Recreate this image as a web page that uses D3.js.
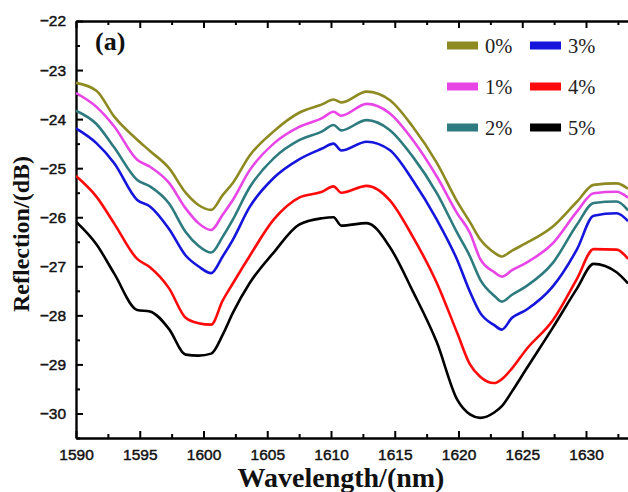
<!DOCTYPE html>
<html>
<head>
<meta charset="utf-8">
<script src="https://cdn.jsdelivr.net/npm/d3@7"></script>
<style>
body { margin: 0; background: #fff; }
svg { display: block; }
.tick text { font-family: "Liberation Sans", Arial, sans-serif; font-size: 15.5px; fill: #111; stroke: #111; stroke-width: 0.45px; }
.domain { stroke: #000; stroke-width: 2.4px; }
.tick line { stroke: #000; stroke-width: 2px; }
.curve { fill: none; stroke-width: 2.6px; stroke-linejoin: round; }
</style>
</head>
<body>
<div id="chart"></div>
<script>
var wavelength = [1590, 1591.6, 1593.0, 1594.8, 1595.8, 1597.3, 1598.6, 1599.6, 1600.6, 1601.5,
  1602.3, 1603.6, 1605.5, 1607.5, 1609.3, 1610.2, 1610.8, 1612.8, 1614.6, 1616.4,
  1618.3, 1619.9, 1620.9, 1621.7, 1622.8, 1623.4, 1624.2, 1625.3, 1627.4, 1629.3,
  1630.6, 1632.4, 1633.3];

var r0 = [-23.26, -23.42, -23.95, -24.42, -24.65, -25.0, -25.5, -25.75, -25.85, -25.55,
  -25.3, -24.75, -24.25, -23.87, -23.7, -23.6, -23.66, -23.44, -23.61, -24.15,
  -24.89, -25.68, -26.1, -26.45, -26.72, -26.8, -26.68, -26.53, -26.19, -25.68,
  -25.34, -25.31, -25.42];
var r1 = [-23.47, -23.75, -24.15, -24.83, -24.97, -25.3, -25.82, -26.12, -26.26, -25.95,
  -25.65, -25.05, -24.5, -24.16, -23.98, -23.85, -23.93, -23.69, -23.88, -24.42,
  -25.17, -25.92, -26.32, -26.85, -27.12, -27.21, -27.08, -26.93, -26.53, -25.88,
  -25.51, -25.48, -25.6];
var r2 = [-23.83, -24.1, -24.58, -25.24, -25.37, -25.72, -26.3, -26.58, -26.72, -26.4,
  -26.05, -25.4, -24.8, -24.43, -24.25, -24.12, -24.23, -24.02, -24.22, -24.76,
  -25.51, -26.32, -26.8, -27.27, -27.6, -27.72, -27.58, -27.41, -26.93, -26.15,
  -25.71, -25.68, -25.86];
var r3 = [-24.19, -24.49, -24.9, -25.65, -25.78, -26.24, -26.78, -27.0, -27.14, -26.8,
  -26.46, -25.8, -25.2, -24.82, -24.6, -24.5, -24.64, -24.46, -24.63, -25.24,
  -26.05, -26.87, -27.52, -27.95, -28.2, -28.29, -28.05, -27.89, -27.41, -26.65,
  -25.97, -25.92, -26.08];
var r4 = [-25.16, -25.58, -26.13, -26.85, -27.02, -27.45, -28.05, -28.16, -28.19, -27.7,
  -27.35, -26.8, -26.05, -25.6, -25.48, -25.37, -25.5, -25.36, -25.65, -26.39,
  -27.34, -28.36, -29.0, -29.25, -29.38, -29.3, -29.08, -28.7, -28.1, -27.25,
  -26.65, -26.66, -26.85];
var r5 = [-26.09, -26.55, -27.15, -27.89, -27.92, -28.28, -28.8, -28.82, -28.78, -28.4,
  -27.95, -27.35, -26.72, -26.15, -26.02, -26.0, -26.17, -26.12, -26.6, -27.5,
  -28.55, -29.72, -30.02, -30.09, -29.98, -29.85, -29.55, -29.1, -28.25, -27.45,
  -26.95, -27.12, -27.35];

var series_names = ["0%", "1%", "2%", "3%", "4%", "5%"];
var series_values = [r0, r1, r2, r3, r4, r5];
var series_colors = ["#8e8a22", "#e845e6", "#2d7b7e", "#1515dc", "#ff0a0a", "#000000"];

var x_ticks = [1590, 1595, 1600, 1605, 1610, 1615, 1620, 1625, 1630];
var y_ticks = [-30, -29, -28, -27, -26, -25, -24, -23, -22];

var width = 628,
height = 492;
var plot_left = 76, plot_top = 21, plot_bottom = 438;

var svg = d3.select("#chart").append("svg")
  .attr("width", width)
  .attr("height", height);

var x = d3.scaleLinear().domain([1590, 1634]).range([plot_left, plot_left + 44 * 12.75]);
var y = d3.scaleLinear().domain([-30.5, -22]).range([plot_bottom, plot_top]);

svg.append("clipPath").attr("id", "clip")
  .append("rect")
  .attr("x", plot_left).attr("y", plot_top)
  .attr("width", x(1634) - plot_left).attr("height", plot_bottom - plot_top);

// minor ticks first, then the major axes on top
var x_minor = d3.range(1592.5, 1634, 5);
var y_minor = d3.range(-30.5, -22, 1);

svg.append("g")
  .attr("transform", "translate(0," + plot_bottom + ")")
  .call(d3.axisBottom(x).tickValues(x_minor).tickSizeInner(-4).tickSizeOuter(0).tickFormat(""))
  .select(".domain").remove();
svg.append("g")
  .attr("transform", "translate(0," + plot_top + ")")
  .call(d3.axisTop(x).tickValues(x_minor).tickSizeInner(-4).tickSizeOuter(0).tickFormat(""))
  .select(".domain").remove();
svg.append("g")
  .attr("transform", "translate(" + plot_left + ",0)")
  .call(d3.axisLeft(y).tickValues(y_minor).tickSizeInner(-4).tickSizeOuter(0).tickFormat(""))
  .select(".domain").remove();

svg.append("g")
  .attr("transform", "translate(0," + plot_bottom + ")")
  .call(d3.axisBottom(x).tickValues(x_ticks).tickSizeInner(-7).tickSizeOuter(0).tickPadding(11).tickFormat(d3.format("d")));
svg.append("g")
  .attr("transform", "translate(0," + plot_top + ")")
  .call(d3.axisTop(x).tickValues(x_ticks).tickSizeInner(-7).tickSizeOuter(0).tickFormat(""));
svg.append("g")
  .attr("transform", "translate(" + plot_left + ",0)")
  .call(d3.axisLeft(y).tickValues(y_ticks).tickSizeInner(-7).tickSizeOuter(0).tickPadding(10).tickFormat(d3.format("d")));

var line = d3.line()
  .x(function (d, i) { return x(wavelength[i]); })
  .y(function (d) { return y(d); })
  .curve(d3.curveMonotoneX);

svg.append("g").attr("clip-path", "url(#clip)")
  .selectAll("path.curve")
  .data(series_values)
  .enter()
  .append("path")
  .attr("class", "curve")
  .attr("stroke", function (d, i) { return series_colors[i]; })
  .attr("d", line);

// legend, two columns of three
var legend = svg.append("g").attr("class", "legend");
series_names.forEach(function (name, i) {
  var col = Math.floor(i / 3), row = i % 3;
  var lx = 447 + col * 83, ly = 45.5 + row * 41;
  legend.append("rect")
    .attr("x", lx).attr("y", ly - 4)
    .attr("width", 31).attr("height", 8)
    .attr("fill", series_colors[i]);
  legend.append("text")
    .attr("x", lx + 38).attr("y", ly + 7.5)
    .style("font-family", "'Liberation Serif', 'Times New Roman', serif")
    .style("font-size", "20.5px")
    .attr("fill", "#222")
    .text(name);
});

svg.append("text")
  .attr("x", 95).attr("y", 50)
  .style("font-family", "'Liberation Serif', 'Times New Roman', serif")
  .style("font-size", "26px").style("font-weight", "bold")
  .attr("fill", "#111")
  .text("(a)");

svg.append("text")
  .attr("x", 341).attr("y", 487)
  .attr("text-anchor", "middle")
  .style("font-family", "'Liberation Serif', 'Times New Roman', serif")
  .style("font-size", "28px").style("font-weight", "bold")
  .attr("fill", "#111")
  .text("Wavelength/(nm)");

svg.append("text")
  .attr("transform", "translate(29,234) rotate(-90)")
  .attr("text-anchor", "middle")
  .style("font-family", "'Liberation Serif', 'Times New Roman', serif")
  .style("font-size", "24px").style("font-weight", "bold")
  .attr("fill", "#111")
  .text("Reflection/(dB)");
</script>
</body>
</html>
